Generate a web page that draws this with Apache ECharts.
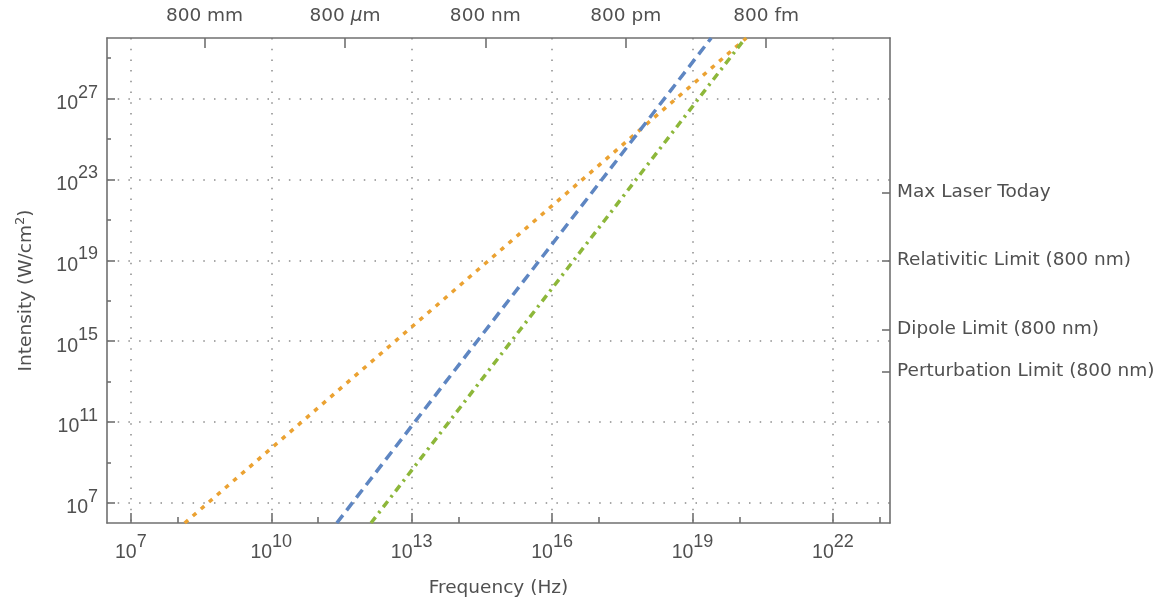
<!DOCTYPE html>
<html><head><meta charset="utf-8">
<script src="https://cdn.jsdelivr.net/npm/echarts@6/dist/echarts.min.js"></script>
<style>html,body{margin:0;padding:0;background:#fff}#c{width:1165px;height:606px}</style>
</head><body><div id="c"></div>
<script>
// ---- Axis ranges (log10 units) ----
const freqRange = [6.49, 23.22];
const intRange = [6, 30];
// ---- Tick positions (log10 exponents) ----
const freqMajorTicks = [7, 10, 13, 16, 19, 22];
const freqMinorTicks = [8, 11, 14, 17, 20, 23];
const intMajorTicks = [7, 11, 15, 19, 23, 27];
const intMinorTicks = [9, 13, 17, 21, 25, 29];
// ---- Top axis: wavelengths (m) and labels ----
const wavelengths = [0.8, 0.8e-3, 0.8e-6, 0.8e-9, 0.8e-12];
const wavelengthLabels = ['800 mm', '800 μm', '800 nm', '800 pm', '800 fm'];
// ---- Right axis: intensity levels (log10 W/cm²) ----
const limitValues = [22.35, 19.0, 15.58, 13.5];
const limitLabels = ['Max Laser Today', 'Relativitic Limit (800 nm)', 'Dipole Limit (800 nm)', 'Perturbation Limit (800 nm)'];
// ---- Series (log10 frequency, log10 intensity) ----
const orangeLogF = [8.15, 20.15];
const orangeLogI = [6, 30];
const blueLogF = [11.4, 19.4];
const blueLogI = [6, 30];
const greenLogF = [12.13, 20.13];
const greenLogI = [6, 30];

const FONT = 'DejaVu Sans';
const NUMFONT = 'Liberation Sans';
const axisColor = '#707070';
const textColor = '#505050';
const gridColor = '#8c8c8c';
const SPEED_OF_LIGHT = 2.998e8;
const wlTicks = wavelengths.map(w => Math.log10(SPEED_OF_LIGHT / w));

function nearestIdx(arr, v) {
  let b = 0;
  for (let i = 1; i < arr.length; i++) if (Math.abs(arr[i] - v) < Math.abs(arr[b] - v)) b = i;
  return b;
}
function zip(a, b) { return a.map((v, i) => [v, b[i]]); }

const powRich = {
  b: { fontFamily: NUMFONT, fontSize: 19.5, color: textColor, lineHeight: 20, padding: [10, 0, 0, 0] },
  s: { fontFamily: NUMFONT, fontSize: 18, color: textColor, lineHeight: 18, padding: [0, 0, 12, 0] }
};
const powFmt = v => '{b|10}{s|' + Math.round(v) + '}';

const lineCommon = { show: true, onZero: false, lineStyle: { color: axisColor, width: 1.6 } };
const tickStyle = { color: axisColor, width: 1.6 };
const splitStyle = { color: gridColor, width: 1.5, type: [1.5, 9.2] };

const option = {
  animation: false,
  grid: { left: 107, right: 275, top: 38, bottom: 83, containLabel: false },
  xAxis: [
    {
      type: 'value', position: 'bottom', min: freqRange[0], max: freqRange[1],
      axisLine: lineCommon,
      axisTick: { show: true, inside: true, length: 10, customValues: freqMajorTicks, lineStyle: tickStyle },
      axisLabel: { customValues: freqMajorTicks, formatter: powFmt, rich: powRich, margin: 15, color: textColor },
      splitLine: { show: true, lineStyle: splitStyle },
      name: 'Frequency (Hz)', nameLocation: 'middle', nameGap: 54,
      nameTextStyle: { fontFamily: FONT, fontSize: 18.5, color: textColor, lineHeight: 22 }
    },
    {
      type: 'value', position: 'top', min: freqRange[0], max: freqRange[1],
      axisLine: lineCommon,
      axisTick: { show: true, inside: true, length: 10, customValues: wlTicks, lineStyle: tickStyle },
      axisLabel: {
        customValues: wlTicks, margin: 12, color: textColor,
        formatter: v => {
          const t = wavelengthLabels[nearestIdx(wlTicks, v)];
          if (t.indexOf('μ') >= 0) {
            const p = t.split('μ');
            return '{n|' + p[0] + '}{i|μ}{n|' + p[1] + '}';
          }
          return '{n|' + t + '}';
        },
        rich: {
          n: { fontFamily: FONT, fontSize: 18.5, color: textColor, lineHeight: 20 },
          i: { fontFamily: FONT, fontSize: 18.5, color: textColor, lineHeight: 20, fontStyle: 'italic' }
        }
      },
      splitLine: { show: false }
    },
    {
      type: 'value', position: 'bottom', min: freqRange[0], max: freqRange[1],
      axisLine: { show: false },
      axisTick: { show: true, inside: true, length: 6, customValues: freqMinorTicks, lineStyle: tickStyle },
      axisLabel: { show: false },
      splitLine: { show: false }
    }
  ],
  yAxis: [
    {
      type: 'value', position: 'left', min: intRange[0], max: intRange[1],
      axisLine: lineCommon,
      axisTick: { show: true, inside: true, length: 8, customValues: intMajorTicks, lineStyle: tickStyle },
      axisLabel: { customValues: intMajorTicks, formatter: powFmt, rich: powRich, margin: 9, color: textColor },
      splitLine: { show: true, lineStyle: splitStyle },
      name: '{a|Intensity (W/cm}{s|2}{a|)}', nameLocation: 'middle', nameGap: 70,
      nameTextStyle: {
        padding: [0, 20, 0, 0],
        rich: {
          a: { fontFamily: FONT, fontSize: 18.5, color: textColor, lineHeight: 22 },
          s: { fontFamily: FONT, fontSize: 13, color: textColor, lineHeight: 13, padding: [0, 0, 10, 0] }
        }
      }
    },
    {
      type: 'value', position: 'right', min: intRange[0], max: intRange[1],
      axisLine: lineCommon,
      axisTick: { show: true, inside: true, length: 8, customValues: limitValues, lineStyle: tickStyle },
      axisLabel: {
        customValues: limitValues, margin: 7, color: textColor, fontFamily: FONT, fontSize: 18.5,
        formatter: v => limitLabels[nearestIdx(limitValues, v)]
      },
      splitLine: { show: false }
    },
    {
      type: 'value', position: 'left', min: intRange[0], max: intRange[1],
      axisLine: { show: false },
      axisTick: { show: true, inside: true, length: 4, customValues: intMinorTicks, lineStyle: tickStyle },
      axisLabel: { show: false },
      splitLine: { show: false }
    }
  ],
  series: [
    {
      name: 'orange', type: 'line', xAxisIndex: 0, yAxisIndex: 0, data: zip(orangeLogF, orangeLogI),
      symbol: 'none', silent: true, clip: true, z: 3,
      lineStyle: { color: '#EBA232', width: 3.5, type: [4.5, 6.2] }
    },
    {
      name: 'blue', type: 'line', xAxisIndex: 0, yAxisIndex: 0, data: zip(blueLogF, blueLogI),
      symbol: 'none', silent: true, clip: true, z: 4,
      lineStyle: { color: '#5E86C2', width: 3.5, type: [10, 6] }
    },
    {
      name: 'green', type: 'line', xAxisIndex: 0, yAxisIndex: 0, data: zip(greenLogF, greenLogI),
      symbol: 'none', silent: true, clip: true, z: 3,
      lineStyle: { color: '#8DB73A', width: 3.5, type: [7.5, 5, 2.5, 5] }
    }
  ]
};

const chart = echarts.init(document.getElementById('c'), null, { renderer: 'canvas' });
chart.setOption(option);
</script>
</body></html>
